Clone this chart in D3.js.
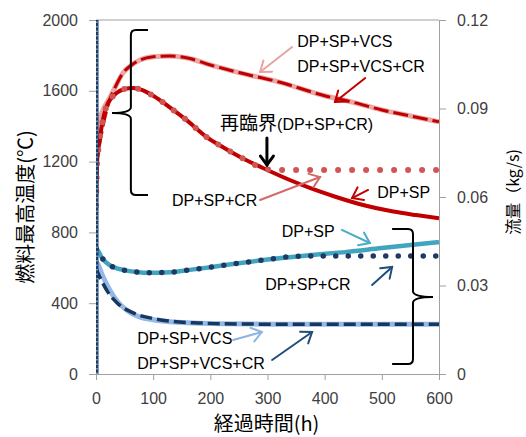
<!DOCTYPE html>
<html>
<head>
<meta charset="utf-8">
<script src="https://cdn.jsdelivr.net/npm/d3@7"></script>
<style>
  body { margin: 0; background: #fff; }
  text { font-family: "Liberation Sans", "Noto Sans CJK JP", sans-serif; }
  .cjk { font-family: "Noto Sans CJK JP", sans-serif; }
</style>
</head>
<body>
<div id="chart"></div>
<script>
// Time axis (h) and tick values
const xTicks = [0, 100, 200, 300, 400, 500, 600];
const tempTicks = [0, 400, 800, 1200, 1600, 2000];
const flowTicks = [0, 0.03, 0.06, 0.09, 0.12];

// Fuel max temperature (°C), left axis
const vcsT     = [0, 2, 5, 10, 15, 24, 35, 47, 60, 77, 100, 129, 160, 200, 250, 322, 400, 450, 500, 550, 600];
const vcsTemp  = [1250, 1380, 1430, 1475, 1510, 1560, 1630, 1700, 1740, 1774, 1792, 1797, 1785, 1746, 1703, 1648, 1572, 1535, 1492, 1458, 1425];
const vcsCrT    = [0, 2, 5, 10, 15, 24, 35, 47, 60, 77, 100, 129, 160, 200, 250, 322, 400, 450, 500, 550, 600];
const vcsCrTemp = [950, 1200, 1270, 1360, 1440, 1548, 1630, 1700, 1740, 1774, 1792, 1797, 1785, 1746, 1703, 1648, 1572, 1535, 1492, 1458, 1425];
const spT    = [0, 2, 4, 10, 18, 36, 50, 65, 80, 100, 135, 160, 193, 220, 252, 292, 339, 374, 420, 467, 520, 560, 600];
const spTemp = [950, 1200, 1266, 1400, 1508, 1587, 1610, 1616, 1605, 1572, 1492, 1430, 1340, 1285, 1226, 1164, 1096, 1051, 1000, 955, 918, 898, 880];
const spCrT    = [0, 2, 4, 10, 18, 36, 50, 65, 80, 100, 135, 160, 193, 220, 252, 292, 310, 350, 400, 450, 500, 550, 600];
const spCrTemp = [950, 1200, 1266, 1400, 1508, 1587, 1610, 1616, 1605, 1572, 1492, 1430, 1340, 1285, 1226, 1164, 1152, 1152, 1152, 1152, 1152, 1152, 1152];

// Coolant flow (kg/s), right axis
const spFt    = [0, 3, 10, 24, 47, 70, 94, 130, 164, 200, 252, 300, 369, 439, 500, 550, 600];
const spFlow  = [0.0425, 0.042, 0.0395, 0.0369, 0.0353, 0.0346, 0.0343, 0.0345, 0.0353, 0.0362, 0.0376, 0.0388, 0.0402, 0.0414, 0.0427, 0.0437, 0.0447];
const spCrFt   = [0, 3, 10, 24, 47, 70, 94, 130, 164, 200, 252, 300, 340, 400, 500, 600];
const spCrFlow = [0.0425, 0.042, 0.0395, 0.0369, 0.0353, 0.0346, 0.0343, 0.0345, 0.0353, 0.0362, 0.0376, 0.0388, 0.0398, 0.0400, 0.0400, 0.0400];
const vcsFt   = [0, 3, 10, 24, 35, 47, 60, 77, 100, 135, 180, 222, 300, 400, 500, 600];
const vcsFlow = [0.0380, 0.0374, 0.0340, 0.0285, 0.0252, 0.0227, 0.0208, 0.0193, 0.0184, 0.0176, 0.0172, 0.0170, 0.0169, 0.0169, 0.0169, 0.0169];
const vcsCrFt   = [0, 5, 9, 20, 37, 65, 100, 135, 180, 222, 300, 400, 500, 600];
const vcsCrFlow = [0.0360, 0.0335, 0.0319, 0.0280, 0.0241, 0.0207, 0.0188, 0.0178, 0.0173, 0.0170, 0.0169, 0.0169, 0.0169, 0.0169];
// startup spike at t = 0
const spikeT = [0, 0];
const spikeFlow = [0, 0.12];

// Annotation labels (h, °C on left axis)
const labels = [
  { t: 352, v: 1847, text: "DP+SP+VCS" },
  { t: 352, v: 1706, text: "DP+SP+VCS+CR" },
  { t: 133, v: 949, text: "DP+SP+CR" },
  { t: 492, v: 994, text: "DP+SP" },
  { t: 325, v: 774, text: "DP+SP" },
  { t: 296, v: 475, text: "DP+SP+CR" },
  { t: 72, v: 169, text: "DP+SP+VCS" },
  { t: 72, v: 28, text: "DP+SP+VCS+CR" }
];
// Arrows: from (t1,v1) to tip (t2,v2)
const arrows = [
  { t1: 343, v1: 1847, t2: 287, v2: 1706, color: "#e8a4a4", w: 2 },
  { t1: 471, v1: 1672, t2: 418, v2: 1537, color: "#c00000", w: 2 },
  { t1: 299, v1: 1333, t2: 299, v2: 1181, color: "#000000", w: 3 },
  { t1: 287, v1: 983, t2: 392, v2: 1113, color: "#d46a6a", w: 2 },
  { t1: 476, v1: 1040, t2: 448, v2: 994, color: "#c00000", w: 2 },
  { t1: 430, v1: 814, t2: 479, v2: 740, color: "#4bacc6", w: 2 },
  { t1: 483, v1: 503, t2: 518, v2: 605, color: "#1f4e79", w: 2 },
  { t1: 240, v1: 192, t2: 290, v2: 237, color: "#8db4e2", w: 2 },
  { t1: 308, v1: 79, t2: 378, v2: 237, color: "#1f4e79", w: 2 }
];

const W = 526, H = 437;
const pLeft = 96, pRight = 439, pTop = 20, pBottom = 374;

const svg = d3.select("#chart").append("svg")
  .attr("width", W).attr("height", H);

const x = d3.scaleLinear().domain([0, 600]).range([pLeft, pRight]);
const yT = d3.scaleLinear().domain([0, 2000]).range([pBottom, pTop]);
const yF = d3.scaleLinear().domain([0, 0.12]).range([pBottom, pTop]);

svg.append("clipPath").attr("id", "plot")
  .append("rect").attr("x", pLeft).attr("y", pTop)
  .attr("width", pRight - pLeft).attr("height", pBottom - pTop);

// frame line on top
svg.append("line").attr("x1", pLeft).attr("x2", pRight).attr("y1", pTop).attr("y2", pTop)
  .attr("stroke", "#a0a0a0");

// axes
function styleAxis(g) {
  g.selectAll("path, line").attr("stroke", "#a0a0a0");
  g.selectAll("text").attr("fill", "#404040").style("font-size", "16px")
    .style("font-family", "'Liberation Sans', sans-serif");
}
svg.append("g").attr("transform", `translate(0,${pBottom})`)
  .call(d3.axisBottom(x).tickValues(xTicks).tickSize(6).tickPadding(13).tickSizeOuter(0)
    .tickFormat(d3.format("d")))
  .call(styleAxis);
svg.append("g").attr("transform", `translate(${pLeft},0)`)
  .call(d3.axisLeft(yT).tickValues(tempTicks).tickSize(7).tickPadding(11).tickSizeOuter(0)
    .tickFormat(d3.format("d")))
  .call(styleAxis);
svg.append("g").attr("transform", `translate(${pRight},0)`)
  .call(d3.axisRight(yF).tickValues(flowTicks).tickSize(7).tickPadding(11).tickSizeOuter(0)
    .tickFormat(d => d === 0 ? "0" : d3.format(".2f")(d)))
  .call(styleAxis);

// series
const plot = svg.append("g").attr("clip-path", "url(#plot)");
const zip = (ts, vs) => ts.map((t, i) => [t, vs[i]]);

function draw(ts, vs, yScale, stroke, width, dash, cap) {
  const line = d3.line().x(d => x(d[0])).y(d => yScale(d[1])).curve(d3.curveMonotoneX);
  plot.append("path").datum(zip(ts, vs))
    .attr("fill", "none").attr("stroke", stroke).attr("stroke-width", width)
    .attr("stroke-dasharray", dash || null)
    .attr("stroke-linecap", cap || "butt")
    .attr("d", line);
}

// flow
draw(vcsFt, vcsFlow, yF, "#95b9e6", 5);
draw(vcsCrFt, vcsCrFlow, yF, "#17375e", 3.5, "12,5");
draw(spFt, spFlow, yF, "#42a5bf", 4.5);
draw(spCrFt, spCrFlow, yF, "#1f3864", 5.5, "0,12.5", "round");

// temperature
draw(vcsT, vcsTemp, yT, "#eba6a6", 5);
draw(vcsCrT, vcsCrTemp, yT, "#c00000", 3, "15,5");
draw(spT, spTemp, yT, "#c00000", 4);
draw(spCrT, spCrTemp, yT, "#d05555", 6, "0,14", "round");

// spike at start
const spikeLine = d3.line().x(d => x(d[0]) + 1).y(d => yF(d[1]));
plot.append("path").datum(zip(spikeT, spikeFlow))
  .attr("stroke", "#1f3864").attr("stroke-width", 3).attr("fill", "none").attr("d", spikeLine);
plot.append("path").datum(zip(spikeT, spikeFlow))
  .attr("stroke", "#9ad4e4").attr("stroke-width", 1.2).attr("stroke-dasharray", "1.5,3")
  .attr("fill", "none").attr("d", spikeLine);

// braces
const brace = svg.append("g").attr("fill", "none").attr("stroke", "#000").attr("stroke-width", 2);
{
  const xa = x(28), xb = x(61), xc = x(91);
  const ya = yT(1943), ym = yT(1475), yb = yT(1011);
  brace.append("path").attr("d",
    `M${xc},${ya} L${xb + 5},${ya} Q${xb},${ya} ${xb},${ya + 5} L${xb},${ym - 6} Q${xb},${ym} ${xa},${ym}` +
    ` Q${xb},${ym} ${xb},${ym + 6} L${xb},${yb - 5} Q${xb},${yb} ${xb + 5},${yb} L${xc},${yb}`);
}
{
  const xa = x(518), xb = x(554.5), xc = x(589.5);
  const ya = yT(819), ym = yT(435), yb = yT(56);
  brace.append("path").attr("d",
    `M${xa},${ya} L${xb - 5},${ya} Q${xb},${ya} ${xb},${ya + 5} L${xb},${ym - 6} Q${xb},${ym} ${xc},${ym}` +
    ` Q${xb},${ym} ${xb},${ym + 6} L${xb},${yb - 5} Q${xb},${yb} ${xb - 5},${yb} L${xa},${yb}`);
}

// arrows
arrows.forEach(a => {
  const x1 = x(a.t1), y1 = yT(a.v1), x2 = x(a.t2), y2 = yT(a.v2);
  const ang = Math.atan2(y2 - y1, x2 - x1);
  const len = a.w > 2 ? 11 : 12, spread = Math.PI / 5;
  const g = svg.append("g").attr("stroke", a.color).attr("stroke-width", a.w)
    .attr("fill", "none").attr("stroke-linecap", "round");
  g.append("line").attr("x1", x1).attr("y1", y1).attr("x2", x2).attr("y2", y2);
  g.append("path").attr("d",
    `M${x2 - len * Math.cos(ang - spread)},${y2 - len * Math.sin(ang - spread)} L${x2},${y2} ` +
    `L${x2 - len * Math.cos(ang + spread)},${y2 - len * Math.sin(ang + spread)}`);
});

// labels
labels.forEach(l => {
  svg.append("text").attr("x", x(l.t)).attr("y", yT(l.v))
    .style("font-size", "16px").attr("fill", "#000").text(l.text);
});
const rc = svg.append("text").attr("x", x(217)).attr("y", yT(1378))
  .style("font-size", "16px").attr("fill", "#000");
rc.append("tspan").attr("class", "cjk").style("font-size", "19px").text("再臨界");
rc.append("tspan").text("(DP+SP+CR)");

// axis titles
svg.append("text").attr("class", "cjk")
  .attr("transform", `translate(24,${(pTop + pBottom) / 2 + 10}) rotate(-90)`)
  .attr("text-anchor", "middle").attr("dominant-baseline", "central")
  .style("font-size", "20px").attr("fill", "#000").text("燃料最高温度(℃)");
svg.append("text").attr("class", "cjk")
  .attr("transform", `translate(512,${(pTop + pBottom) / 2 - 5}) rotate(-90)`)
  .attr("text-anchor", "middle").attr("dominant-baseline", "central")
  .style("font-size", "16px").attr("fill", "#000").text("流量（kg/s)");
svg.append("text").attr("class", "cjk")
  .attr("x", (pLeft + pRight) / 2 - 1).attr("y", 431)
  .attr("text-anchor", "middle")
  .style("font-size", "20px").attr("fill", "#000").text("経過時間(h)");
</script>
</body>
</html>
